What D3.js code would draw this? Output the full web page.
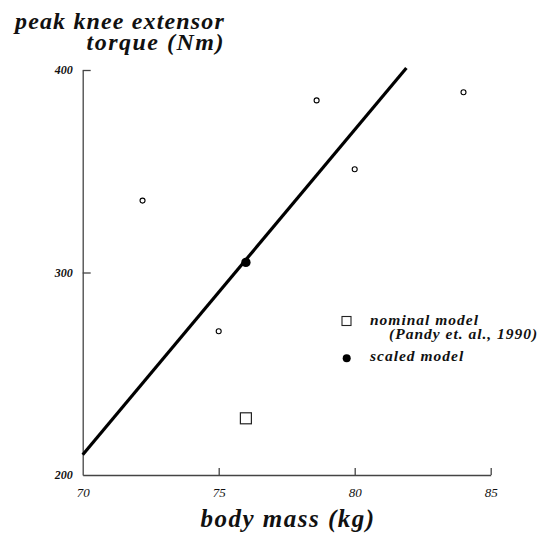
<!DOCTYPE html>
<html>
<head>
<meta charset="utf-8">
<script src="https://cdn.jsdelivr.net/npm/d3@7"></script>
<style>
body { margin: 0; background: #fff; }
svg { display: block; }
.title { font-family: "Liberation Serif", "Times New Roman", serif; font-style: italic; font-weight: bold; fill: #111; }
.tick text { font-family: "Liberation Serif", "Times New Roman", serif; font-style: italic; fill: #111; }
.axis path, .axis line { stroke: #444; stroke-width: 1.3; }
.legend text { font-family: "Liberation Serif", "Times New Roman", serif; font-style: italic; font-weight: bold; font-size: 15.5px; letter-spacing: 1px; fill: #111; }
</style>
</head>
<body>
<script>
// subjects (open circles)
var subjectMass = [72.2, 75.0, 78.6, 80.0, 84.0];
var subjectTorque = [335.5, 271, 385, 351, 389];

// models
var nominalModel = {mass: 76.0, torque: 228};
var scaledModel = {mass: 76.0, torque: 305};

// regression line end points
var fitMass = [70, 81.9];
var fitTorque = [210, 401];

var xTicks = [70, 75, 80, 85];
var yTicks = [200, 300, 400];

var width = 548,
	height = 534;

var x = d3.scaleLinear().domain([70, 85]).range([82.7, 490.7]),
	y = d3.scaleLinear().domain([200, 400]).range([475, 70]);

var svg = d3.select("body").append("svg")
	.attr("width", width)
	.attr("height", height);

// axes
var xAxis = svg.append("g")
	.attr("class", "axis")
	.attr("transform", "translate(0," + y(200) + ")")
	.call(d3.axisBottom(x).tickValues(xTicks).tickSizeInner(-7).tickSizeOuter(0).tickPadding(13));
xAxis.selectAll(".tick text").style("font-size", "13px");
xAxis.selectAll(".tick").filter(function (d) { return d == 70; }).select("line").remove();

var yAxis = svg.append("g")
	.attr("class", "axis")
	.attr("transform", "translate(" + x(70) + ",0)")
	.call(d3.axisLeft(y).tickValues(yTicks).tickSizeInner(-8).tickSizeOuter(0).tickPadding(10));
yAxis.selectAll(".tick text").style("font-size", "12px").style("font-weight", "bold");
yAxis.selectAll(".tick").filter(function (d) { return d == 200; }).select("line").remove();

// fitted line
svg.append("line")
	.attr("x1", x(fitMass[0]))
	.attr("y1", y(fitTorque[0]))
	.attr("x2", x(fitMass[1]))
	.attr("y2", y(fitTorque[1]))
	.attr("stroke", "#000")
	.attr("stroke-width", 3.2);

// subjects
svg.selectAll(".subject")
	.data(d3.range(subjectMass.length))
	.enter().append("circle")
	.attr("class", "subject")
	.attr("cx", function (i) { return x(subjectMass[i]); })
	.attr("cy", function (i) { return y(subjectTorque[i]); })
	.attr("r", 2.5)
	.attr("fill", "#fff")
	.attr("stroke", "#000")
	.attr("stroke-width", 1.1);

// nominal model
svg.append("rect")
	.attr("x", x(nominalModel.mass) - 5.5)
	.attr("y", y(nominalModel.torque) - 5.5)
	.attr("width", 11)
	.attr("height", 11)
	.attr("fill", "#fff")
	.attr("stroke", "#222")
	.attr("stroke-width", 1.2);

// scaled model
svg.append("circle")
	.attr("cx", x(scaledModel.mass))
	.attr("cy", y(scaledModel.torque))
	.attr("r", 4.7)
	.attr("fill", "#000");

// legend
var legend = svg.append("g").attr("class", "legend");
legend.append("rect")
	.attr("x", 342)
	.attr("y", 316.5)
	.attr("width", 9)
	.attr("height", 9)
	.attr("fill", "#fff")
	.attr("stroke", "#222")
	.attr("stroke-width", 1.1);
legend.append("text").attr("x", 370).attr("y", 325).text("nominal model");
legend.append("text").attr("x", 389).attr("y", 338.5).text("(Pandy et. al., 1990)");
legend.append("circle")
	.attr("cx", 346.7)
	.attr("cy", 358.3)
	.attr("r", 4)
	.attr("fill", "#000");
legend.append("text").attr("x", 370).attr("y", 361).text("scaled model");

// titles
svg.append("text")
	.attr("class", "title")
	.attr("x", 225)
	.attr("y", 29)
	.attr("text-anchor", "end")
	.style("font-size", "24px")
	.style("letter-spacing", "1.15px")
	.text("peak knee extensor");
svg.append("text")
	.attr("class", "title")
	.attr("x", 225)
	.attr("y", 49.5)
	.attr("text-anchor", "end")
	.style("font-size", "24px")
	.style("letter-spacing", "1.5px")
	.text("torque (Nm)");
svg.append("text")
	.attr("class", "title")
	.attr("x", 288)
	.attr("y", 527)
	.attr("text-anchor", "middle")
	.style("font-size", "25px")
	.style("letter-spacing", "1.5px")
	.text("body mass (kg)");
</script>
</body>
</html>
